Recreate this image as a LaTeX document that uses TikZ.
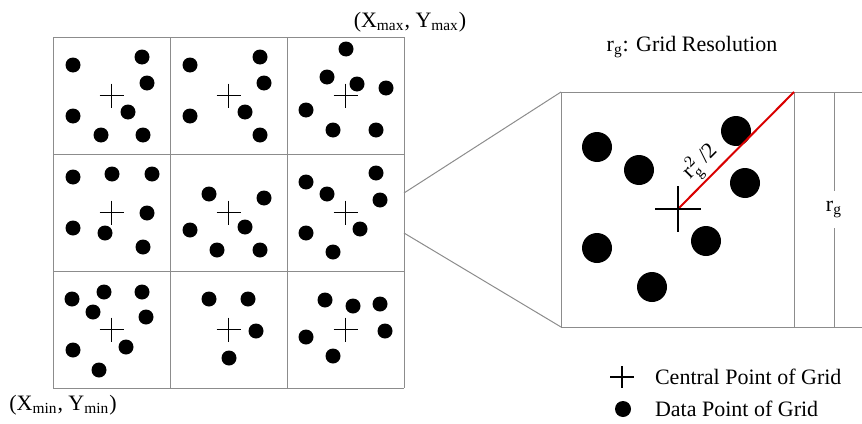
\documentclass[tikz,border=0pt]{standalone}
\usepackage{fontspec}
\setmainfont{Liberation Serif}
\begin{document}
\begin{tikzpicture}[x=0.5pt, y=-0.5pt, font=\fontsize{11}{13}\selectfont,
        gridline/.style={draw=black!45, line width=0.5pt},
        centre/.style={line width=0.75pt},
        radius/.style={draw=red!85!black, line width=1pt}]
        \useasboundingbox (0,0) rectangle (862,423);
        \def\c{117}

        % Grid of 3 x 3 cells
        \foreach \i in {0,...,3} {
            \draw[gridline] (53+\i*\c,37) -- (53+\i*\c,388);
            \draw[gridline] (53,37+\i*\c) -- (404,37+\i*\c);
        }

        % Central points of the cells
        \foreach \i in {0,1,2} {
            \foreach \j in {0,1,2} {
                \draw[centre] (111.5+\i*\c-12,95.5+\j*\c) -- (111.5+\i*\c+12,95.5+\j*\c)
                    (111.5+\i*\c,95.5+\j*\c-12) -- (111.5+\i*\c,95.5+\j*\c+12);
            }
        }

        % Data points of the cells
        \foreach \p in {(73,65),(142,57),(147,83),(73,116),(128,112),(101,135),(143,135),
                        (190,65),(260,57),(264,83),(190,116),(245,112),(260,135),
                        (346,49),(327,77),(357,84),(386,88),(306,110),(333,130),(376,130),
                        (73,177),(112,174),(152,174),(73,228),(105,233),(147,213),(143,247),
                        (209,194),(264,198),(190,230),(245,227),(217,250),(260,250),
                        (306,182),(327,194),(376,173),(380,200),(360,229),(306,233),(333,252),
                        (72,299),(104,292),(142,292),(93,312),(146,317),(73,350),(126,347),(99,370),
                        (209,299),(248,299),(256,331),(229,358),
                        (325,300),(353,306),(380,304),(385,331),(306,337),(333,356)}
            \fill \p circle (3.75pt);

        % Corner labels
        \node (maxlabel) at (410,22) {(X\textsubscript{max}, Y\textsubscript{max})};
        \node (minlabel) at (63,405) {(X\textsubscript{min}, Y\textsubscript{min})};

        % Zoomed cell
        \coordinate (zoomtop) at (404,193);
        \coordinate (zoombot) at (404,233);
        \coordinate (boxNW) at (561,92);
        \coordinate (boxSW) at (561,327);
        \coordinate (boxNE) at (794,92);
        \coordinate (boxSE) at (794,327);
        \draw[gridline] (zoomtop) -- (boxNW);
        \draw[gridline] (zoombot) -- (boxSW);
        \draw[gridline] (boxNW) rectangle (boxSE);
        \draw[gridline] (boxNE) -- (862,92);
        \draw[gridline] (boxSE) -- (862,327);
        \draw[gridline] (834,92) -- (834,327)
            node[midway, fill=white, inner ysep=5pt] (rglabel) {r\textsubscript{g}};

        \node (title) at (692,47) {r\textsubscript{g}: Grid Resolution};

        % Data points of the zoomed cell
        \foreach \p in {(597,147),(639,170),(736,131),(745,183),(706,241),(597,248),(652,287)}
            \fill \p circle (7.5pt);

        % Central point and half diagonal
        \coordinate (zc) at (678,209);
        \draw[radius] (zc) -- (boxNE)
            node[pos=0.3, above, sloped, inner sep=1pt, text=black] (diaglabel) {$\mathrm{r}^{2}_{\mathrm{g}}$ /2};
        \draw[line width=1pt] (655,209) -- (701,209) (678,186) -- (678,232);

        % Legend
        \draw[centre] (610,377) -- (634,377) (622,366) -- (622,388);
        \node[anchor=west] (centrallabel) at (648,377) {Central Point of Grid};
        \fill (623,409) circle (4pt);
        \node[anchor=west] (datalabel) at (648,409) {Data Point of Grid};
    \end{tikzpicture}
\end{document}
